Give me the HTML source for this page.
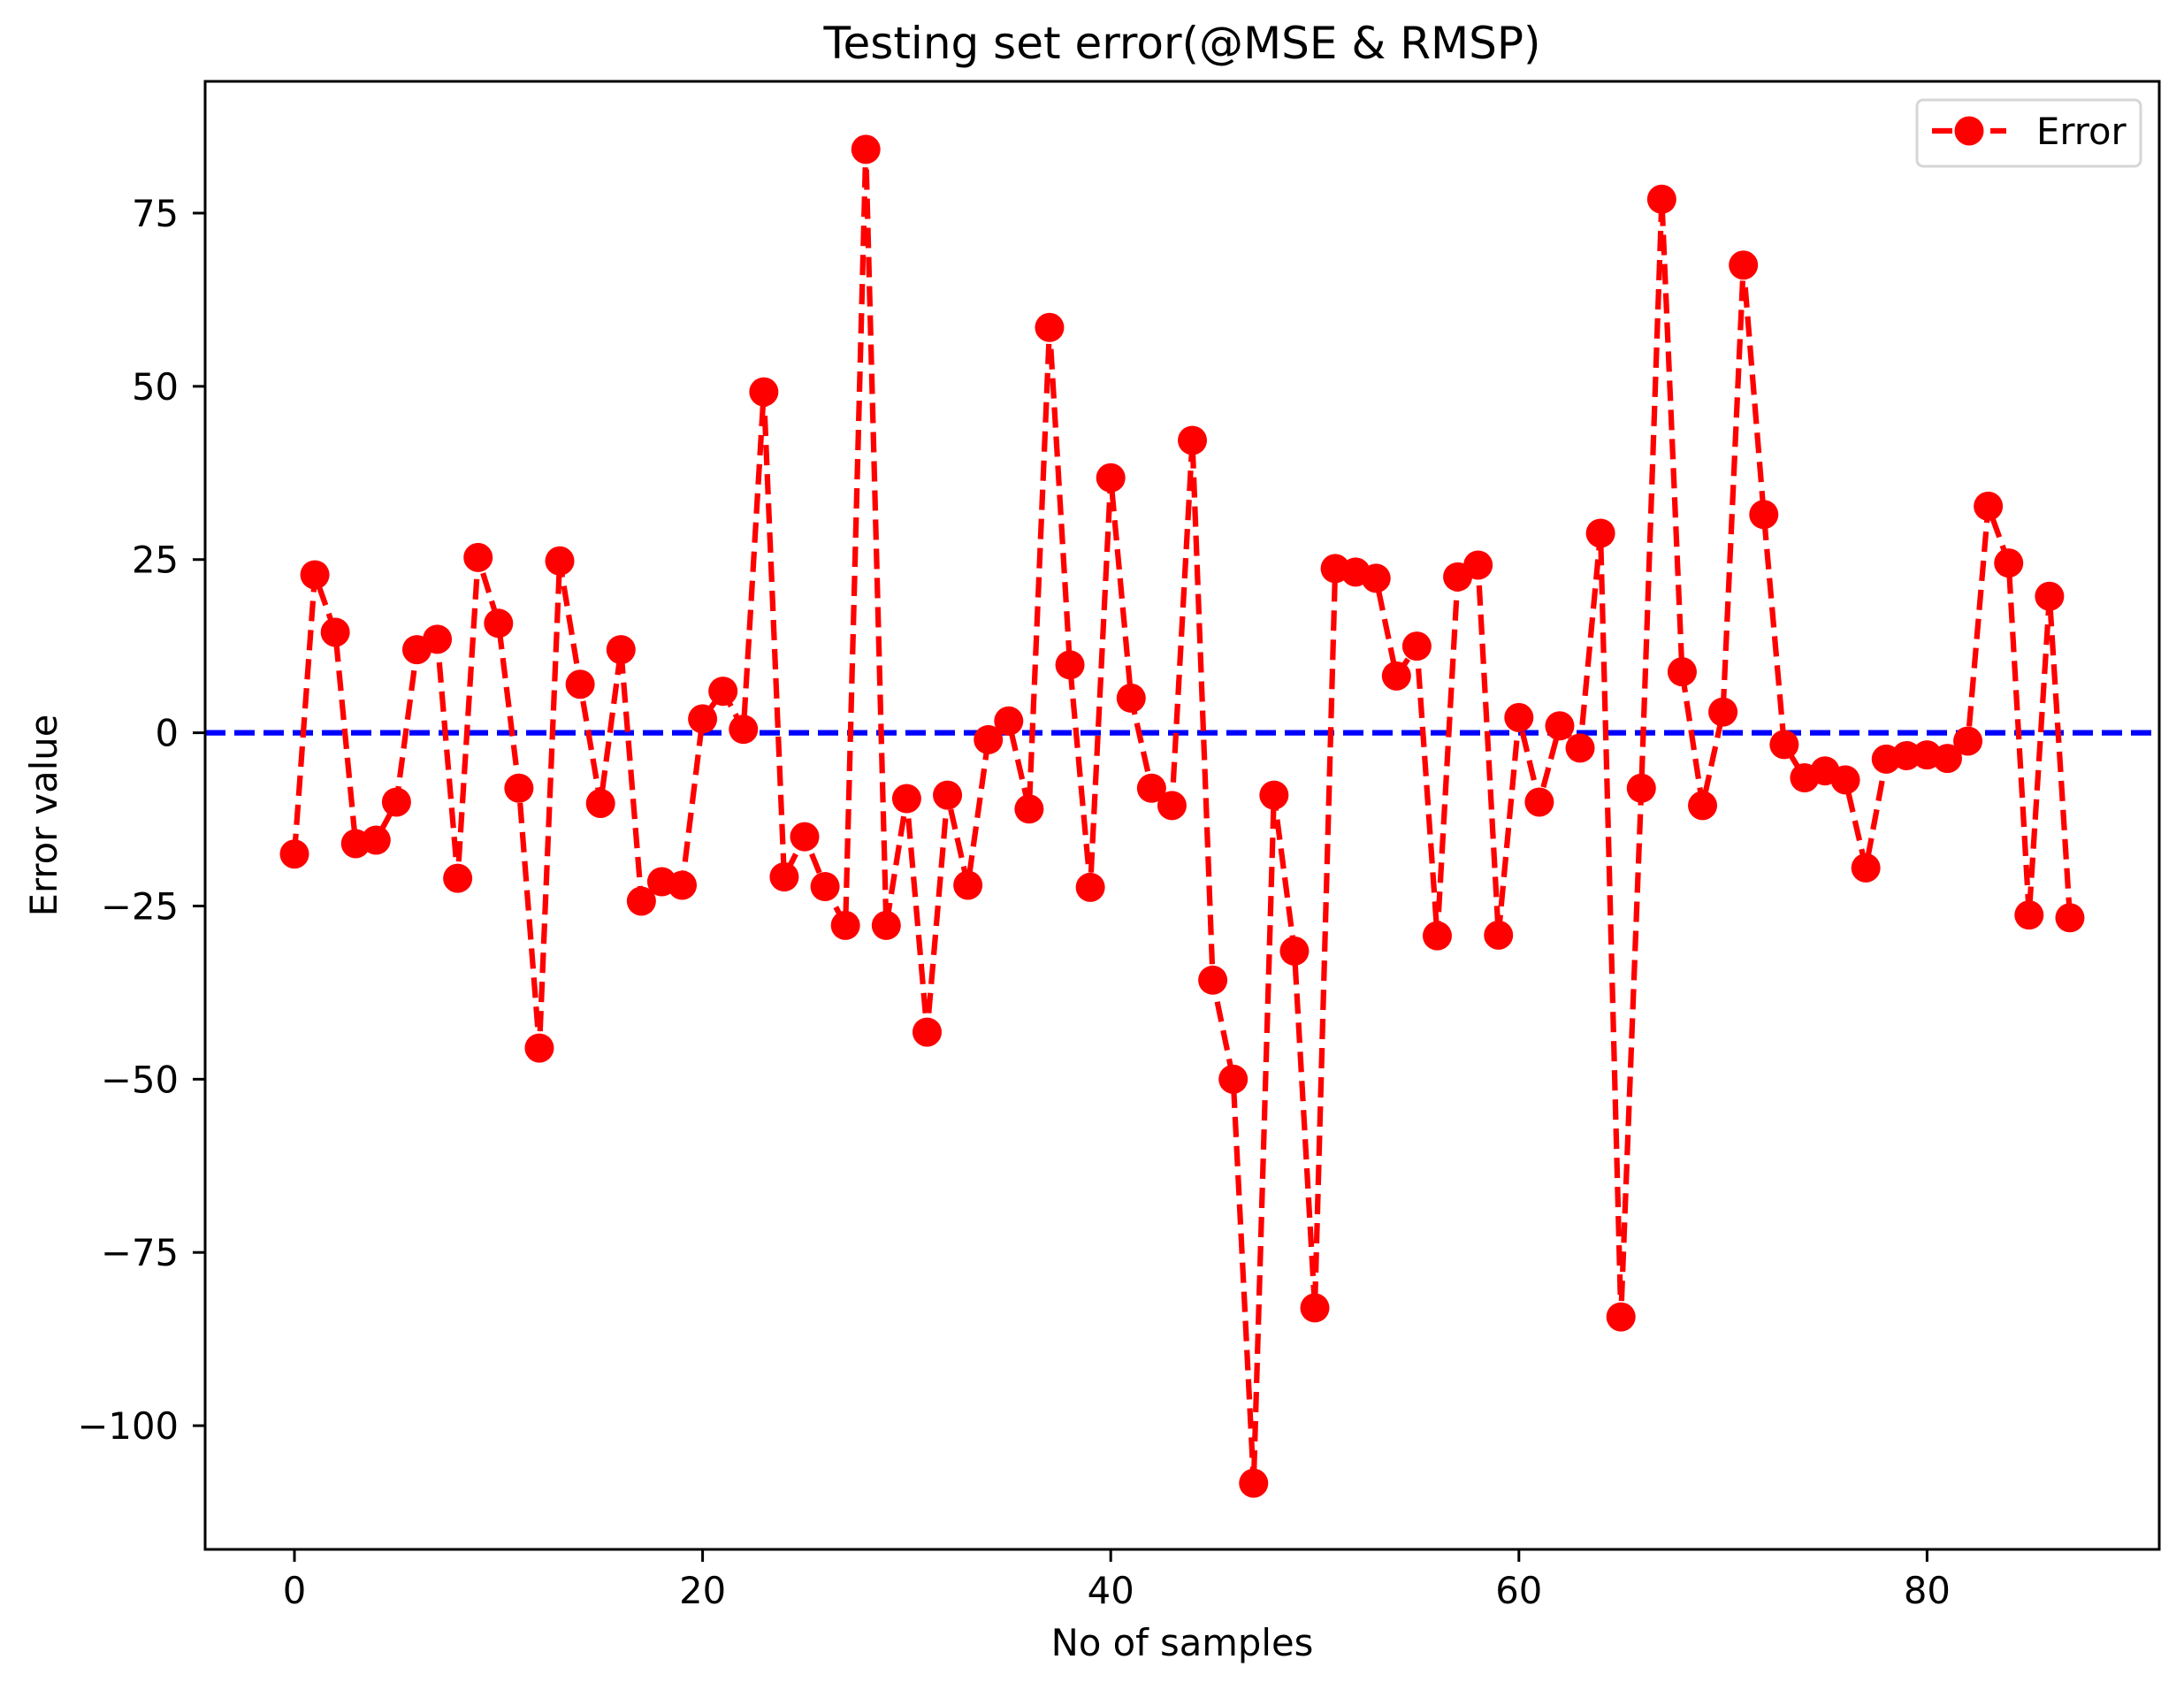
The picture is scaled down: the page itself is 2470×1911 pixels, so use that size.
<!DOCTYPE html>
<html><head><meta charset="utf-8">
<style>
html,body{margin:0;padding:0;background:#fff;}
svg{display:block;font-family:"DejaVu Sans","Liberation Sans",sans-serif;}
</style></head>
<body>
<svg id="chart" width="2470" height="1911" viewBox="0 0 2470 1911" xmlns="http://www.w3.org/2000/svg">
<rect x="0" y="0" width="2470" height="1911" fill="#fff"/>
<text x="1337" y="66" font-size="50" text-anchor="middle">Testing set error(@MSE &amp; RMSP)</text>
<g id="grid-layer"></g>
<g id="ticks"></g>
<g id="series"></g>
<rect x="232" y="92" width="2210" height="1660" fill="none" stroke="#000" stroke-width="3"/>
<text x="1337" y="1872" font-size="41.7" text-anchor="middle">No of samples</text>
<text transform="translate(64,922) rotate(-90)" font-size="41.7" text-anchor="middle">Error value</text>
<g>
<rect x="2168" y="113" width="253" height="75" rx="7" fill="#fff" fill-opacity="0.8" stroke="#d6d6d6" stroke-width="3"/>
<line x1="2185" y1="148" x2="2269" y2="148" stroke="#f00" stroke-width="6.25" stroke-dasharray="23 10"/>
<circle cx="2227" cy="148" r="16.5" fill="#f00"/>
<text x="2303" y="163" font-size="41.7">Error</text>
</g>
</svg>
<script>
const xTicks = [0, 20, 40, 60, 80];
const yTicks = [75, 50, 25, 0, -25, -50, -75, -100];
const errorValues = [-17.5,22.8,14.5,-16,-15.5,-10,12,13.5,-21,25.3,15.8,-8,-45.5,24.8,7,-10.2,12,-24.3,-21.5,-22,2,6,0.5,49.2,-20.8,-15,-22.2,-27.8,84.2,-27.8,-9.5,-43.2,-9,-22,-1,1.7,-11,58.5,9.8,-22.3,36.8,5,-8,-10.5,42.2,-35.7,-50,-108.3,-9,-31.5,-83,23.7,23.2,22.3,8.2,12.5,-29.3,22.5,24.2,-29.2,2.2,-10,1,-2.2,28.8,-84.3,-8,77,8.8,-10.5,3,67.5,31.5,-1.7,-6.5,-5.5,-6.8,-19.5,-3.8,-3.3,-3.2,-3.7,-1.2,32.7,24.5,-26.3,19.7,-26.7];
const baselineValue = 0;

const NS = "http://www.w3.org/2000/svg";
const xPx = v => 333 + v * 23.08;
const yPx = v => 828.6 - v * 7.835;
function mk(tag, attrs, parent){const e=document.createElementNS(NS,tag);for(const k in attrs)e.setAttribute(k,attrs[k]);parent.appendChild(e);return e;}
const ticks = document.getElementById('ticks');
xTicks.forEach(t=>{
  const l=mk('line',{x1:xPx(t),x2:xPx(t),y1:1752,y2:1766,stroke:'#000','stroke-width':3},ticks);
  
  
  const tx=mk('text',{x:xPx(t),y:1813,'font-size':41.7,'text-anchor':'middle'},ticks);
  tx.textContent=String(t);
  
  
});
yTicks.forEach(t=>{
  const l=mk('line',{x1:218,x2:232,y1:yPx(t),y2:yPx(t),stroke:'#000','stroke-width':3},ticks);
  
  
  const tx=mk('text',{x:202,y:yPx(t)+15,'font-size':41.7,'text-anchor':'end'},ticks);
  tx.textContent=t<0?'\u2212'+Math.abs(t):String(t);
  
  
});
const series = document.getElementById('series');
const zl=mk('line',{x1:232,x2:2442,y1:yPx(baselineValue),y2:yPx(baselineValue),stroke:'#0000ff','stroke-width':6.25,'stroke-dasharray':'23 10'},series);


const pts = errorValues.map((v,i)=>xPx(i).toFixed(1)+','+yPx(v).toFixed(1)).join(' ');
const pl=mk('polyline',{points:pts,fill:'none',stroke:'#f00','stroke-width':6.25,'stroke-dasharray':'23 10','stroke-linejoin':'round'},series);


errorValues.forEach((v,i)=>{
  const c=mk('circle',{cx:xPx(i),cy:yPx(v),r:16.5,fill:'#f00'},series);
  
  
});
</script>
</body></html>
